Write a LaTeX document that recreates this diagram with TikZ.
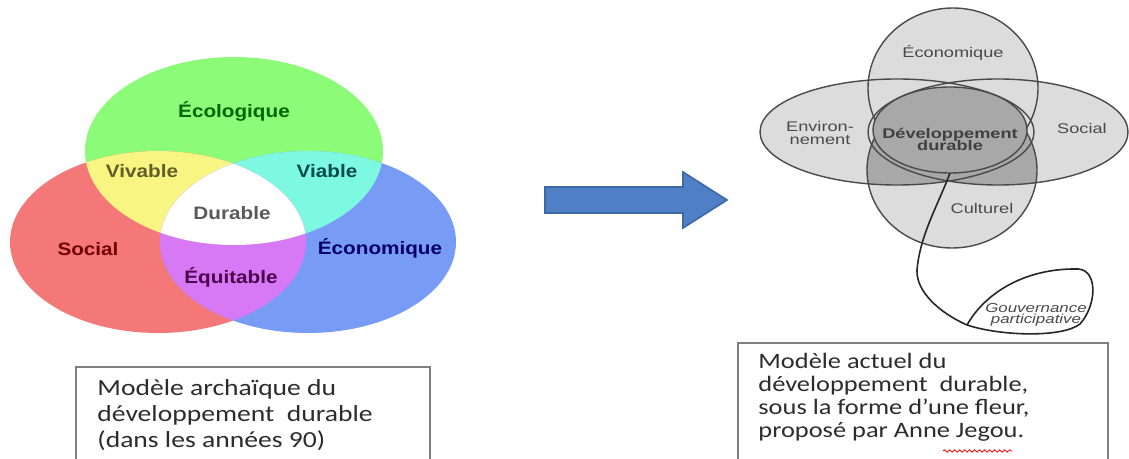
\documentclass[tikz,border=0pt]{standalone}
\usepackage{fontspec}
\setmainfont{Liberation Sans}
\newfontfamily\vennfont[FakeStretch=1.15]{Liberation Sans}
\newfontfamily\flowerfont[FakeStretch=1.3]{Liberation Sans}
\newfontfamily\boxfont[FakeStretch=1.2]{Carlito}
\usetikzlibrary{decorations.pathmorphing}

\definecolor{vgreen}{HTML}{8CFC78}
\definecolor{vred}{HTML}{F57878}
\definecolor{vblue}{HTML}{789BF5}
\definecolor{vyellow}{HTML}{F8F582}
\definecolor{vcyan}{HTML}{7DF8E1}
\definecolor{vmagenta}{HTML}{D778F5}
\definecolor{petalfill}{HTML}{DCDCDC}
\definecolor{heartfill}{HTML}{A8A8A8}
\definecolor{petalline}{HTML}{4A4A4A}
\definecolor{arrowblue}{HTML}{4F7FC4}
\definecolor{arrowedge}{HTML}{3D68A8}
\definecolor{captiontext}{HTML}{2C2C2C}

% left venn circles
\def\ecolo{(234,151) ellipse [x radius=149, y radius=94]}
\def\soc{(158,242) ellipse [x radius=148, y radius=91]}
\def\eco{(308,242) ellipse [x radius=148, y radius=91]}
% right flower petals
\def\petalT{(953,88) ellipse [x radius=85, y radius=80]}
\def\petalB{(952,170) ellipse [x radius=85, y radius=78]}
\def\petalL{(897,132) ellipse [x radius=137, y radius=53]}
\def\petalR{(998,132) ellipse [x radius=130, y radius=53]}
\def\heart{(950,130) ellipse [x radius=77, y radius=43]}

\begin{document}
\begin{tikzpicture}[
    x=0.5pt, y=-0.5pt,  % one unit = one pixel of the reference
    venn/.style = {font=\vennfont\bfseries\fontsize{9}{10}\selectfont},
    petal/.style = {draw=petalline, line width=0.7pt},
    flabel/.style = {font=\flowerfont\fontsize{7}{7}\selectfont, text=petalline, align=center},
    caption/.style = {font=\boxfont\fontsize{11}{11.5}\selectfont, text=captiontext,
                      align=left, anchor=north west, inner sep=0pt},
    boxline/.style = {draw=gray, line width=0.8pt}
  ]
    \useasboundingbox (0,0) rectangle (1129,459);

    % old model: three coloured circles
    \fill[vgreen] \ecolo;
    \fill[vred] \soc;
    \fill[vblue] \eco;
    \begin{scope}
      \clip \ecolo;
      \fill[vyellow] \soc;
      \fill[vcyan] \eco;
    \end{scope}
    \begin{scope}
      \clip \soc;
      \fill[vmagenta] \eco;
      \clip \eco;
      \fill[white] \ecolo;
    \end{scope}

    \node[venn, text=green!40!black] (ecolo) at (234,111) {Écologique};
    \node[venn, text=olive!60!black] (vivable) at (142,171) {Vivable};
    \node[venn, text=teal!60!black] (viable) at (327,171) {Viable};
    \node[venn, text=black!65] (durable) at (232,213) {Durable};
    \node[venn, text=red!45!black] (social) at (88,249) {Social};
    \node[venn, text=blue!40!black] (econo) at (380,248) {Économique};
    \node[venn, text=violet!60!black] (equit) at (231,277) {Équitable};

    % arrow between the two models
    \draw[fill=arrowblue, draw=arrowedge, line width=0.8pt]
      (545,187) -- (683,187) -- (683,172) -- (727,200) -- (683,228) -- (683,213) -- (545,213) -- cycle;

    % new model: the flower
    \fill[petalfill] \petalL;
    \fill[petalfill] \petalR;
    \fill[petalfill] \petalT;
    \fill[petalfill] \petalB;
    \begin{scope}
      \clip \petalB;
      \fill[heartfill] \petalL;
      \fill[heartfill] \petalR;
    \end{scope}
    \path[petal] \petalL;
    \path[petal] \petalR;
    \path[petal] \petalT;
    \path[petal] \petalB;
    \path[petal, fill=heartfill] \heart;   % heart covers the inner petal edges

    \node[flabel] (feco) at (953,53) {Économique};
    \node[flabel] (fenv) at (820,133) {Environ-\\[-1pt]nement};
    \node[flabel] (fsoc) at (1082,129) {Social};
    \node[flabel, font=\flowerfont\bfseries\fontsize{7}{7}\selectfont, text=black!75] (dd) at (950,139) {Développement\\[-1pt]durable};
    \node[flabel] (fcul) at (982,208) {Culturel};

    % stem and leaf
    \coordinate (stemtop) at (950,173);
    \coordinate (govtip) at (967,325);
    \node[flabel, font=\flowerfont\itshape\fontsize{6.5}{6.5}\selectfont] (gov) at (1036,315) {Gouvernance\\[-1pt]participative};
    \draw[line width=0.8pt, black!85] (stemtop) .. controls (938,205) and (920,235) .. (917,270)
      .. controls (916,292) and (940,313) .. (govtip);
    \draw[line width=0.8pt, black!85] (govtip) .. controls (985,293) and (1025,268) .. (1078,269)
      .. controls (1098,270) and (1097,305) .. (1080,324)
      .. controls (1062,338) and (1000,336) .. (govtip);

    % captions
    \draw[boxline] (76,459) |- (430,367) -- (430,459);
    \node[caption, font=\boxfont\fontsize{11.5}{13}\selectfont] (oldcap) at (97,379) {Modèle archaïque du\\développement\ \ durable\\(dans les années 90)};

    \draw[boxline] (738,459) |- (1108,343) -- (1108,459);
    \node[caption] (newcap) at (758,353) {Modèle actuel du\\développement\ \ durable,\\sous la forme d’une fleur,\\proposé par Anne Jegou.};
    \draw[red, line width=0.4pt, decorate, decoration={snake, amplitude=0.6pt, segment length=2.5pt}]
      (943,451) -- (1012,451);
  \end{tikzpicture}
\end{document}
